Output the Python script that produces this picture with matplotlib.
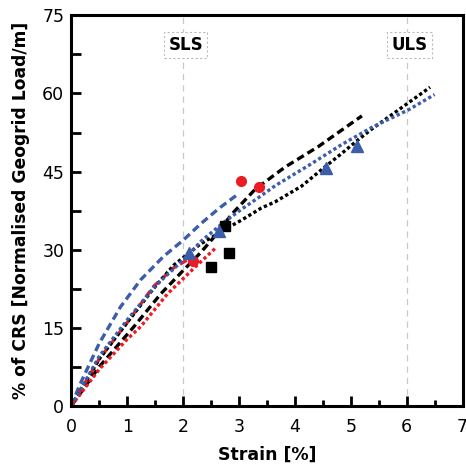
import matplotlib.pyplot as plt
from matplotlib.ticker import MultipleLocator

# Kurven: Dehnung [%] gegen normierte Geogitterlast [% CRS]
blau_gestrichelt_x = [0, 0.15, 0.5, 0.88, 1.24, 1.65, 2.0, 2.32, 2.65, 3.0]
blau_gestrichelt_y = [0, 4.0, 12.0, 19.0, 24.2, 28.7, 31.8, 35.0, 38.0, 40.8]

blau_punktiert_x = [0, 0.5, 1.0, 1.5, 2.1, 2.32, 2.7, 3.05, 3.35, 3.65, 4.25, 4.84, 5.38, 6.04, 6.5]
blau_punktiert_y = [0, 9.5, 16.5, 23.0, 29.0, 31.6, 35.0, 37.8, 40.0, 42.3, 46.2, 50.2, 53.5, 56.9, 59.8]

schwarz_gestrichelt_x = [0, 0.5, 1.12, 1.6, 2.02, 2.32, 2.6, 2.87, 3.29, 3.83, 4.42, 5.2]
schwarz_gestrichelt_y = [0, 7.5, 15.2, 21.5, 26.2, 29.5, 33.0, 36.8, 41.6, 45.9, 49.8, 55.7]

schwarz_punktiert_x = [0, 0.5, 1.0, 1.47, 1.83, 2.3, 2.8, 3.05, 3.4, 3.65, 4.12, 4.55, 4.84, 5.12, 5.38, 5.68, 6.42]
schwarz_punktiert_y = [0, 9.0, 16.0, 22.5, 27.0, 31.0, 34.2, 35.7, 38.0, 39.2, 42.2, 46.0, 48.5, 51.0, 53.2, 55.5, 61.2]

rot_gestrichelt_x = [0, 0.5, 1.0, 1.47, 1.83, 2.12]
rot_gestrichelt_y = [0, 9.0, 16.0, 22.9, 26.5, 28.3]

rot_punktiert_x = [0, 0.5, 1.0, 1.24, 1.72, 2.2, 2.6]
rot_punktiert_y = [0, 7.0, 12.8, 15.2, 21.5, 26.5, 30.5]

# Messpunkte
kreise_x = [2.17, 3.04, 3.35]
kreise_y = [27.8, 43.1, 42.1]
quadrate_x = [2.5, 2.82, 2.75]
quadrate_y = [26.6, 29.3, 34.5]
dreiecke_x = [2.1, 2.65, 4.55, 5.12]
dreiecke_y = [29.4, 33.5, 45.6, 50.0]

# Grenzzustaende
grenzen_x = [2, 6]
grenzen_text = ['SLS', 'ULS']

rot = '#ec1c24'
blau = '#3b5daa'
strich = (0, (2.3, 1.3))
punkt = (0, (1.0, 0.8))

fig = plt.figure(figsize=(4.66, 4.67), dpi=100)
ax = fig.add_axes([0.153, 0.131, 0.8395, 0.836])

for gx, gt in zip(grenzen_x, grenzen_text):
    ax.axvline(gx, color='#c8c8c8', linewidth=0.9, linestyle=(0, (5, 4)), zorder=1)
    ax.text(gx + 0.05, 69.3, gt, ha='center', va='center', fontsize=12, fontweight='bold',
            bbox=dict(boxstyle='square,pad=0.25', facecolor='white', edgecolor='#bbbbbb',
                      linestyle=(0, (2, 2)), linewidth=0.8), zorder=3)

ax.plot(blau_gestrichelt_x, blau_gestrichelt_y, color=blau, linewidth=2.4, linestyle=strich)
ax.plot(schwarz_gestrichelt_x, schwarz_gestrichelt_y, color='black', linewidth=2.4, linestyle=strich)
ax.plot(rot_gestrichelt_x, rot_gestrichelt_y, color=rot, linewidth=2.4, linestyle=strich)
ax.plot(schwarz_punktiert_x, schwarz_punktiert_y, color='black', linewidth=2.4, linestyle=punkt)
ax.plot(rot_punktiert_x, rot_punktiert_y, color=rot, linewidth=2.4, linestyle=punkt)
ax.plot(blau_punktiert_x, blau_punktiert_y, color=blau, linewidth=2.4, linestyle=punkt)

ax.plot(kreise_x, kreise_y, 'o', color=rot, markersize=7, zorder=4)
ax.plot(quadrate_x, quadrate_y, 's', color='black', markersize=6.5, zorder=4)
ax.plot(dreiecke_x, dreiecke_y, '^', color=blau, markersize=8, zorder=4)

ax.set_xlim(0, 7)
ax.set_ylim(0, 75)
ax.xaxis.set_major_locator(MultipleLocator(1))
ax.xaxis.set_minor_locator(MultipleLocator(0.5))
ax.yaxis.set_major_locator(MultipleLocator(15))
ax.yaxis.set_minor_locator(MultipleLocator(7.5))
ax.tick_params(which='both', direction='in', width=2, labelsize=12.5)
ax.tick_params(axis='x', which='major', length=7, pad=9)
ax.tick_params(axis='x', which='minor', length=4)
ax.tick_params(axis='y', which='both', length=7, pad=5)
ax.tick_params(top=False, right=False)
for s in ax.spines.values():
    s.set_linewidth(2.2)

ax.set_xlabel('Strain [%]', fontsize=12.5, fontweight='bold', labelpad=7)
ax.set_ylabel('% of CRS [Normalised Geogrid Load/m]', fontsize=12.3, fontweight='bold', labelpad=9)

fig.savefig('out.png', dpi=100)
